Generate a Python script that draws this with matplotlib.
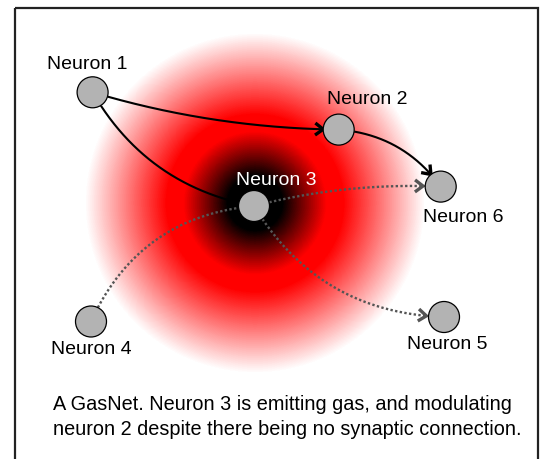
import numpy as np
import matplotlib
matplotlib.use("Agg")
import matplotlib.pyplot as plt
from matplotlib.colors import LinearSegmentedColormap
from matplotlib.patches import Circle, Rectangle

plt.rcParams['font.family'] = ['Liberation Sans', 'DejaVu Sans']

# ---- data (pixel coords, y down) ----
node_names = ["Neuron 1", "Neuron 2", "Neuron 3", "Neuron 4", "Neuron 5", "Neuron 6"]
node_x = [92.6, 338.7, 254.0, 91.0, 444.0, 440.7]
node_y = [92.3, 129.6, 206.0, 321.5, 317.0, 186.6]
label_x = [87.5, 367.0, 276.5, 91.6, 447.0, 463.0]
label_y = [64.6, 100.0, 180.4, 350.0, 344.6, 217.8]
label_color = ["black", "black", "white", "black", "black", "black"]

# edges: source, target, dotted?, bend, arrowhead?
edge_src = [0, 0, 1, 2, 2, 3]
edge_dst = [1, 2, 5, 5, 4, 2]
edge_dotted = [False, False, False, True, True, True]
edge_bend = [0.07, 0.23, -0.23, -0.075, 0.27, -0.29]
edge_head = [True, False, True, True, True, False]

gas_center = (255.0, 203.0)
gas_radius = 170.0

caption = ("A GasNet. Neuron 3 is emitting gas, and modulating\n"
           "neuron 2 despite there being no synaptic connection.")

W, H = 542, 459
R = 15.5

fig = plt.figure(figsize=(W / 100, H / 100), dpi=100)
ax = fig.add_axes([0, 0, 1, 1])
ax.set_xlim(0, W)
ax.set_ylim(H, 0)
ax.axis("off")

# gas cloud: radial gradient black -> red -> white
cmap = LinearSegmentedColormap.from_list(
    "gas", [(0, "black"), (0.16, "black"), (0.42, "red"), (0.52, "red"), (1.0, "white")])
xx, yy = np.meshgrid(np.arange(W) + 0.5, np.arange(H) + 0.5)
rr = np.clip(np.hypot(xx - gas_center[0], yy - gas_center[1]) / gas_radius, 0, 1)
ax.imshow(cmap(rr), extent=(0, W, H, 0), interpolation="bilinear", zorder=0)

# frame
ax.add_patch(Rectangle((14.5, 7.5), 523.5, 500, fill=False, ec="#222222", lw=1.6, zorder=1))


def bezier(p0, p2, bend):
    p0, p2 = np.array(p0), np.array(p2)
    d = p2 - p0
    ctrl = (p0 + p2) / 2 + bend * np.array([-d[1], d[0]])
    t = np.linspace(0, 1, 600)[:, None]
    return (1 - t) ** 2 * p0 + 2 * (1 - t) * t * ctrl + t ** 2 * p2


for s, d, dotted, bend, head in zip(edge_src, edge_dst, edge_dotted, edge_bend, edge_head):
    a = (node_x[s], node_y[s])
    b = (node_x[d], node_y[d])
    pts = bezier(a, b, bend)
    gap = 2 if dotted else 0
    keep = (np.hypot(pts[:, 0] - a[0], pts[:, 1] - a[1]) >= R) & \
           (np.hypot(pts[:, 0] - b[0], pts[:, 1] - b[1]) >= R + gap)
    pts = pts[keep]
    color = "#555555" if dotted else "black"
    ls = (0, (1, 1)) if dotted else "-"
    ax.plot(pts[:, 0], pts[:, 1], color=color, lw=1.7 if dotted else 1.5, ls=ls,
            zorder=2, solid_capstyle="butt")
    if head:
        tip = pts[-1]
        tan = tip - pts[-15]
        tan = tan / np.hypot(*tan)
        nrm = np.array([-tan[1], tan[0]])
        wing1 = tip - 8 * tan + 6 * nrm
        wing2 = tip - 8 * tan - 6 * nrm
        hx = [wing1[0], tip[0], wing2[0]]
        hy = [wing1[1], tip[1], wing2[1]]
        ax.plot(hx, hy, color=color, lw=2.4, zorder=3,
                solid_joinstyle="miter", solid_capstyle="butt")

for x, y in zip(node_x, node_y):
    ax.add_patch(Circle((x, y), R, fc="#b3b3b3", ec="black", lw=0.9, zorder=4))

for name, x, y, c in zip(node_names, label_x, label_y, label_color):
    ax.text(x, y, name, color=c, fontsize=14, ha="center", va="center", zorder=5)

ax.text(53, 417, caption, fontsize=14.3, ha="left", va="center", linespacing=1.42, zorder=5)

fig.savefig("out.png", dpi=100)
